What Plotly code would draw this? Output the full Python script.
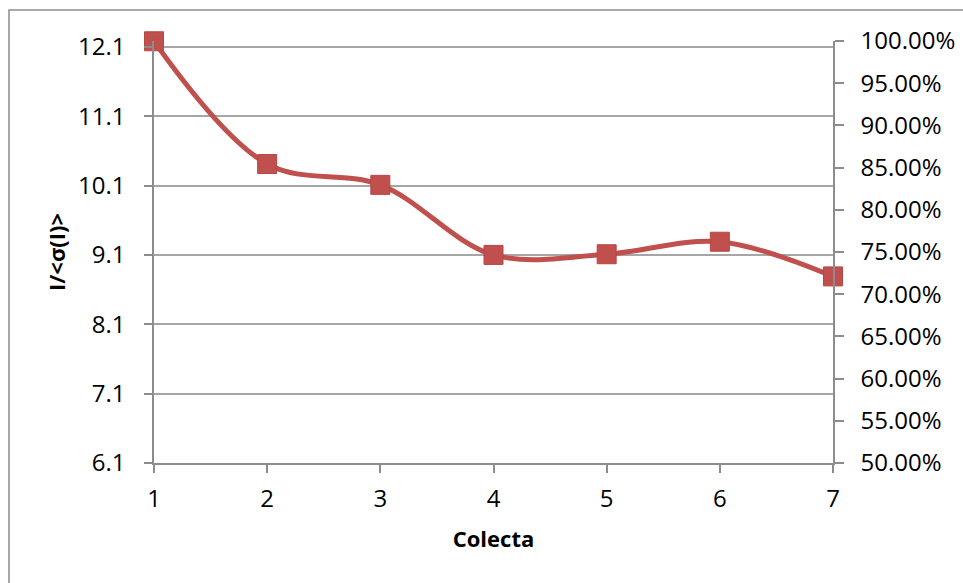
import plotly.graph_objects as go

# Data
colecta = [1, 2, 3, 4, 5, 6, 7]
i_sigma = [12.18, 10.41, 10.11, 9.10, 9.11, 9.29, 8.79]
left_ticks = [6.1, 7.1, 8.1, 9.1, 10.1, 11.1, 12.1]
right_ticks = [0.50, 0.55, 0.60, 0.65, 0.70, 0.75, 0.80, 0.85, 0.90, 0.95, 1.00]

W, H = 963, 583
ML, MR, MT, MB = 154, 130, 41, 120
PW, PH = W - ML - MR, H - MT - MB

RED = "#C0504D"
GRID = "#A6A6A6"
AXIS = "#8C8C8C"
FONT = "'Open Sans', 'Noto Sans', sans-serif"
FS_TICK = 24
FS_TITLE = 22

fig = go.Figure()

fig.add_trace(go.Scatter(
    x=colecta, y=i_sigma,
    mode="lines+markers",
    line=dict(color=RED, width=5, shape="spline", smoothing=1.0),
    marker=dict(symbol="square", size=19, color=RED,
                line=dict(color="#B74744", width=1)),
    showlegend=False, cliponaxis=False,
))

# empty series bound to the secondary (percentage) axis
fig.add_trace(go.Scatter(x=[None], y=[None], yaxis="y2",
                         showlegend=False, hoverinfo="skip"))

fig.update_layout(
    width=W, height=H,
    margin=dict(l=ML, r=MR, t=MT, b=MB, autoexpand=False),
    paper_bgcolor="white", plot_bgcolor="white",
    font=dict(family=FONT, size=FS_TICK, color="#000000"),
    xaxis=dict(
        range=[1, 7], tickvals=colecta, ticktext=[str(c) for c in colecta],
        showgrid=False, zeroline=False, automargin=False,
        showline=True, linecolor=AXIS, linewidth=1.5,
        ticks="outside", ticklen=8, tickcolor=AXIS, tickwidth=1.5,
        ticklabelstandoff=5,
        title=dict(text="<b>Colecta</b>", standoff=19,
                   font=dict(family=FONT, size=FS_TITLE)),
    ),
    yaxis=dict(
        range=[6.1, 12.184], tickvals=left_ticks,
        ticktext=[f"{v:.1f}" for v in left_ticks],
        showgrid=True, gridcolor=GRID, gridwidth=1.5, zeroline=False,
        automargin=False,
        showline=True, linecolor=AXIS, linewidth=1.5,
        ticks="outside", ticklen=8, tickcolor=AXIS, tickwidth=1.5,
        ticklabelstandoff=14,
        title=dict(text="<b>I/&lt;σ(I)&gt;</b>", standoff=6,
                   font=dict(family=FONT, size=FS_TITLE)),
    ),
    yaxis2=dict(
        range=[0.5, 1.0], tickvals=right_ticks, tickformat=".2%",
        overlaying="y", side="right", automargin=False,
        showgrid=False, zeroline=False,
        showline=True, linecolor=AXIS, linewidth=1.5,
        ticks="outside", ticklen=9, tickcolor=AXIS, tickwidth=1.5,
        ticklabelstandoff=12,
    ),
    shapes=[dict(
        type="rect", xref="paper", yref="paper",
        x0=(9 - ML) / PW, x1=(W + 20 - ML) / PW,
        y0=-(MB + 20) / PH, y1=(H - MB - 10) / PH,
        line=dict(color="#8C8C8C", width=1.5), fillcolor="rgba(0,0,0,0)",
        layer="below",
    )],
)

fig.write_html("out.html")
